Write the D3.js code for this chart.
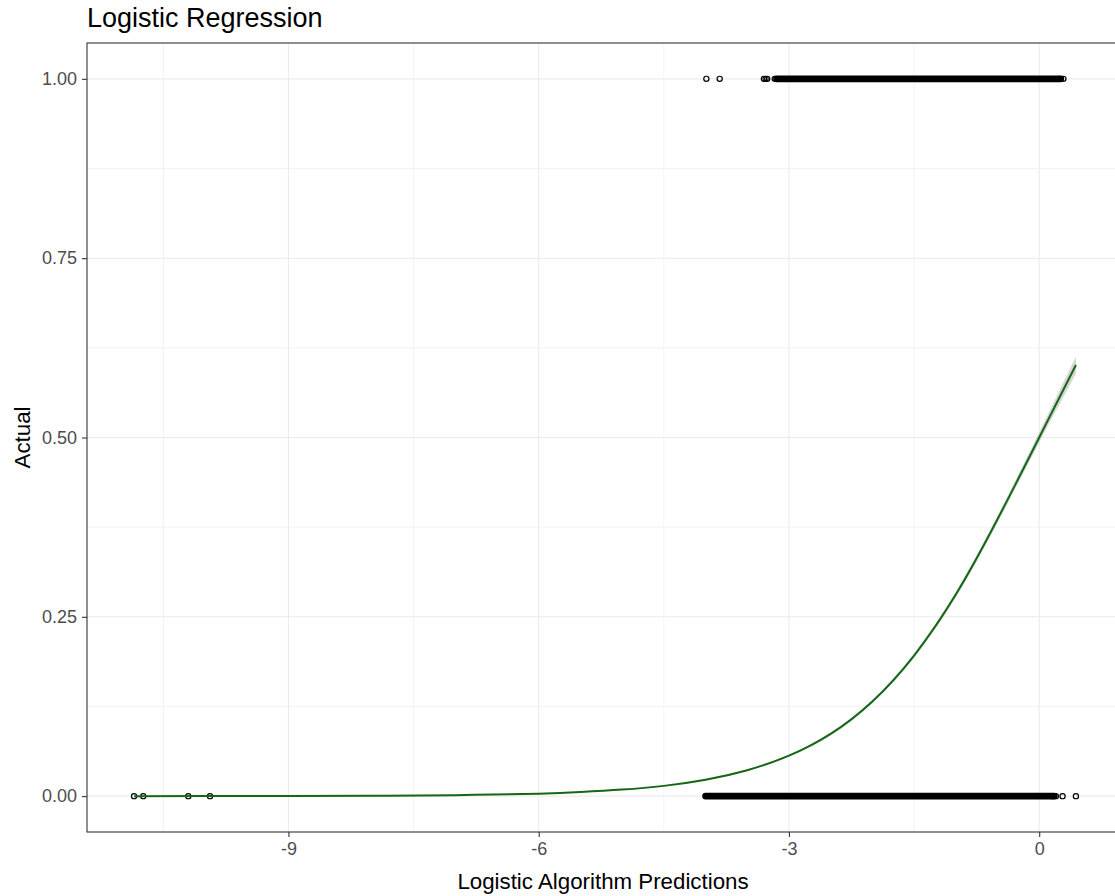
<!DOCTYPE html>
<html>
<head>
<meta charset="utf-8">
<script src="https://cdn.jsdelivr.net/npm/d3@7"></script>
<style>
  body { margin: 0; background: #fff; }
  svg { font-family: "Liberation Sans", Arial, sans-serif; display: block; }
</style>
</head>
<body>
<svg width="1115" height="896"></svg>
<script>
// Data
const xTicks = [-9, -6, -3, 0];
const yTicks = [0, 0.25, 0.5, 0.75, 1];

// single observations (x, actual)
const pointsX = [-3.99, -3.83, -3.30, -3.28, -3.26, -3.17, 0.24, 0.29,
                 -10.85, -10.74, -10.20, -9.94, 0.16, 0.20, 0.28, 0.44];
const pointsY = [1, 1, 1, 1, 1, 1, 1, 1,
                 0, 0, 0, 0, 0, 0, 0, 0];

// dense runs of overlapping observations: [start, end], actual
const runStart = [-3.15, -4.00];
const runEnd   = [0.26, 0.18];
const runY     = [1, 0];

// fitted logistic curve and its confidence band
const fitX  = [-10.85, -10, -9, -8, -7, -6, -5.5, -5, -4.5, -4, -3.5, -3, -2.5, -2, -1.5, -1, -0.5, 0, 0.2, 0.44];
const fitY  = [0.0000, 0.0001, 0.0002, 0.0005, 0.0014, 0.0035, 0.0057, 0.0091, 0.0143, 0.0229, 0.0362, 0.0564, 0.0868, 0.132, 0.196, 0.281, 0.386, 0.500, 0.546, 0.601];
const fitSE = [0, 0, 0, 0, 0, 0, 0, 0, 0, 0.001, 0.001, 0.001, 0.002, 0.002, 0.003, 0.004, 0.005, 0.007, 0.009, 0.012];

const svg = d3.select('svg');
const panel = { left: 87, top: 43, bottom: 832, right: 1123 };

// ggplot style 5% expansion
const xMin = d3.min(pointsX), xMax = d3.max(pointsX);
const xPad = (xMax - xMin) * 0.05;
const xScale = d3.scaleLinear()
    .domain([xMin - xPad, xMax + xPad])
    .range([panel.left, panel.right]);
const yScale = d3.scaleLinear()
    .domain([-0.05, 1.05])
    .range([panel.bottom, panel.top]);

const grid = svg.append('g');
// minor grid
const xMinor = [-10.5, -7.5, -4.5, -1.5];
const yMinor = [0.125, 0.375, 0.625, 0.875];
grid.selectAll('.xminor').data(xMinor).join('line')
    .attr('x1', d => xScale(d)).attr('x2', d => xScale(d))
    .attr('y1', panel.top).attr('y2', panel.bottom)
    .attr('stroke', '#ebebeb').attr('stroke-width', 0.6);
grid.selectAll('.yminor').data(yMinor).join('line')
    .attr('y1', d => yScale(d)).attr('y2', d => yScale(d))
    .attr('x1', panel.left).attr('x2', panel.right)
    .attr('stroke', '#ebebeb').attr('stroke-width', 0.6);
// major grid
grid.selectAll('.xmajor').data(xTicks).join('line')
    .attr('x1', d => xScale(d)).attr('x2', d => xScale(d))
    .attr('y1', panel.top).attr('y2', panel.bottom)
    .attr('stroke', '#ebebeb').attr('stroke-width', 1.1);
grid.selectAll('.ymajor').data(yTicks).join('line')
    .attr('y1', d => yScale(d)).attr('y2', d => yScale(d))
    .attr('x1', panel.left).attr('x2', panel.right)
    .attr('stroke', '#ebebeb').attr('stroke-width', 1.1);

// dense runs
svg.selectAll('.run').data(runStart).join('line')
    .attr('x1', (d) => xScale(d))
    .attr('x2', (d, i) => xScale(runEnd[i]))
    .attr('y1', (d, i) => yScale(runY[i]))
    .attr('y2', (d, i) => yScale(runY[i]))
    .attr('stroke', '#000').attr('stroke-width', 6.6)
    .attr('stroke-linecap', 'round');

// single points
svg.selectAll('.pt').data(pointsX).join('circle')
    .attr('cx', d => xScale(d))
    .attr('cy', (d, i) => yScale(pointsY[i]))
    .attr('r', 2.6)
    .attr('fill', 'none').attr('stroke', '#000').attr('stroke-width', 1.2);

// confidence band
const fit = fitX.map((x, i) => ({ x, y: fitY[i], se: fitSE[i] }));
const area = d3.area()
    .x(d => xScale(d.x))
    .y0(d => yScale(d.y - d.se))
    .y1(d => yScale(d.y + d.se))
    .curve(d3.curveNatural);
svg.append('path').attr('d', area(fit))
    .attr('fill', '#999').attr('fill-opacity', 0.4);

const line = d3.line()
    .x(d => xScale(d.x))
    .y(d => yScale(d.y))
    .curve(d3.curveNatural);
svg.append('path').attr('d', line(fit))
    .attr('fill', 'none').attr('stroke', '#156615').attr('stroke-width', 2);

// panel border
svg.append('rect')
    .attr('x', panel.left).attr('y', panel.top)
    .attr('width', panel.right - panel.left).attr('height', panel.bottom - panel.top)
    .attr('fill', 'none').attr('stroke', '#333').attr('stroke-width', 1.1);

// axes
const xAxis = d3.axisBottom(xScale).tickValues(xTicks).tickSize(5).tickPadding(5)
    .tickFormat(d => String(d));
const xAxisGroup = svg.append('g')
    .attr('transform', 'translate(0,' + panel.bottom + ')')
    .call(xAxis);
const yAxis = d3.axisLeft(yScale).tickValues(yTicks).tickSize(5).tickPadding(5)
    .tickFormat(d => d.toFixed(2));
const yAxisGroup = svg.append('g')
    .attr('transform', 'translate(' + panel.left + ',0)')
    .call(yAxis);
[xAxisGroup, yAxisGroup].forEach(g => {
    g.select('.domain').remove();
    g.selectAll('.tick line').attr('stroke', '#333').attr('stroke-width', 1.1);
    g.selectAll('.tick text').attr('fill', '#4d4d4d').attr('font-size', 18)
        .attr('font-family', '"Liberation Sans", Arial, sans-serif');
});

// titles
svg.append('text').attr('x', 87).attr('y', 27)
    .attr('font-size', 27).attr('fill', '#000')
    .text('Logistic Regression');
svg.append('text').attr('x', 603).attr('y', 889)
    .attr('text-anchor', 'middle').attr('font-size', 22.3)
    .text('Logistic Algorithm Predictions');
svg.append('text')
    .attr('transform', 'translate(30,' + (panel.top + panel.bottom) / 2 + ') rotate(-90)')
    .attr('text-anchor', 'middle').attr('font-size', 22.3)
    .text('Actual');
</script>
</body>
</html>
